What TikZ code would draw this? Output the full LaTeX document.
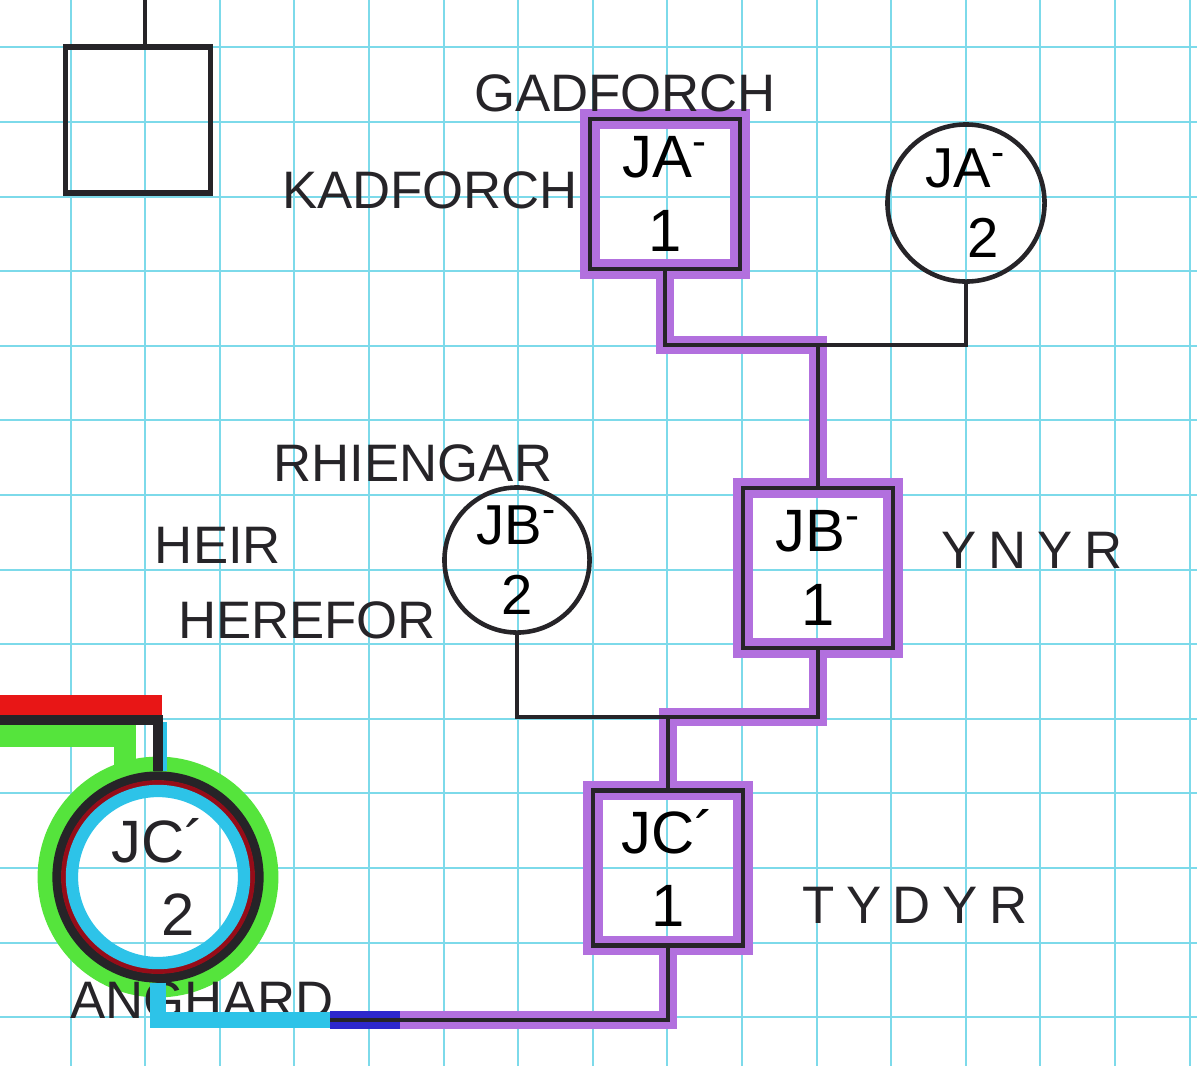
\documentclass[tikz,border=0pt]{standalone}
\usepackage{fontspec}
\setmainfont{Liberation Sans}
\usetikzlibrary{positioning}
\definecolor{gridcyan}{RGB}{125,218,234}
\definecolor{ink}{RGB}{38,36,40}
\definecolor{hlpurple}{RGB}{178,112,222}
\definecolor{hlblue}{RGB}{45,40,205}
\definecolor{hlcyan}{RGB}{45,195,232}
\definecolor{hlgreen}{RGB}{85,228,60}
\definecolor{hlred}{RGB}{232,22,22}
\definecolor{darkred}{RGB}{150,12,24}
\newcommand{\handlbl}{\fontsize{15}{17}\selectfont}
\begin{document}
\begin{tikzpicture}[x=0.01cm,y=-0.01cm,
gridline/.style={gridcyan,line width=0.6pt},
man/.style={draw=ink,line width=1.3pt,minimum width=1.5cm,minimum height=1.5cm,align=center,inner sep=0pt,font=\fontsize{17}{17}\selectfont},
woman/.style={draw=ink,circle,line width=1.3pt,minimum size=1.55cm,align=center,inner sep=0pt,font=\fontsize{16}{16}\selectfont},
heir/.style={preaction={draw=hlpurple,line width=5.5pt}},
lbl/.style={font=\handlbl,text=ink,inner sep=0pt},
wide/.style={font=\handlbl\addfontfeatures{LetterSpace=22}},
link/.style={draw=ink,line width=1.2pt},
hl/.style={draw=hlpurple,line width=5pt}]
\fill[white] (0,0) rectangle (1197,1066);
\useasboundingbox (0,0) rectangle (1197,1066);
\foreach \i in {0,...,16} \draw[gridline] ({-4+74.6*\i},0) -- ({-4+74.6*\i},1066);
\foreach \j in {0,...,13} \draw[gridline] (0,{47.4+74.6*\j}) -- (1197,{47.4+74.6*\j});
\node[man,line width=1.6pt,minimum width=1.45cm,minimum height=1.46cm] (sq0) at (138,120) {};
\node[man,heir] (ja1) at (665,194) {JA\textsuperscript{-}\\[4pt]1};
\node[woman,minimum size=1.57cm] (ja2) at (966,203) {JA\textsuperscript{-}\\[4pt]\hspace*{0.35cm}2};
\node[man,heir,minimum height=1.6cm] (jb1) at (818,568) {JB\textsuperscript{-}\\[4pt]1};
\node[woman,minimum size=1.45cm] (jb2) at (517,560) {JB\textsuperscript{-}\\[4pt]2};
\node[man,heir,minimum height=1.55cm] (jc1) at (668,868) {JC´\\[4pt]1};
\node[woman,line width=2.6pt,minimum size=2.02cm,preaction={draw=hlgreen,line width=11pt}] (jc2) at (158,877) {};
\draw[darkred,line width=1.6pt] (jc2.center) circle (0.94cm);
\draw[hlcyan,line width=3.5pt] (jc2.center) circle (0.86cm);
\node[font=\fontsize{17}{17}\selectfont,align=center,text=ink] (jc2t) at (jc2.center) {JC´\\[4pt]\hspace*{0.4cm}2};
\node[lbl] (gad) at (625,93) {GADFORCH};
\node[lbl] (kad) at (430,190) {KADFORCH};
\node[lbl,wide] (ynyr) at (1032,550) {YNYR};
\node[lbl] (rhi) at (413,463) {RHIENGAR};
\node[lbl] (heirl) at (218,545) {HEIR};
\node[lbl] (here) at (307,620) {HEREFOR};
\node[lbl,wide] (tyd) at (915,905) {TYDYR};
\node[lbl] (ang) at (202,1000) {ANGHARD};
\coordinate (sq0top) at (145,0);
\coordinate (jaj) at (818,345);
\coordinate (jbj) at (668,717);
\coordinate (jcj) at (330,1020);
\coordinate (jcb) at (400,1020);
\coordinate (redl) at (0,705);
\coordinate (redr) at (162,705);
\coordinate (jcl) at (0,720);
\coordinate (grl) at (0,736);
\coordinate (grr) at (125,736);
\coordinate (cyt) at (160,722);
\path[hl] (ja1.south) |- (jaj) -- (jb1.north);
\path[hl] (jb1.south) |- (jbj) -- (jc1.north);
\path[hl] (jc1.south) |- (jcj);
\draw[hlblue,line width=5pt] (jcj) -- (jcb);
\draw[hlcyan,line width=4.5pt] (jc2.south) |- (jcj);
\draw[hlred,line width=5.5pt] (redl) -- (redr);
\draw[hlgreen,line width=6pt] (grl) -| (grr |- jc2.north);
\draw[hlcyan,line width=4pt] (cyt) -- (cyt |- jc2.north);
\draw[link] (sq0top |- sq0.north) -- (sq0top);
\draw[link] (ja1.south) |- (jaj) -| (ja2.south);
\draw[link] (jaj) -- (jb1.north);
\draw[link] (jb2.south) |- (jbj) -| (jb1.south);
\draw[link] (jbj) -- (jc1.north);
\draw[link] (jc1.south) |- (jcj);
\draw[link,line width=2.6pt] (jc2.north) |- (jcl);
\end{tikzpicture}
\end{document}
